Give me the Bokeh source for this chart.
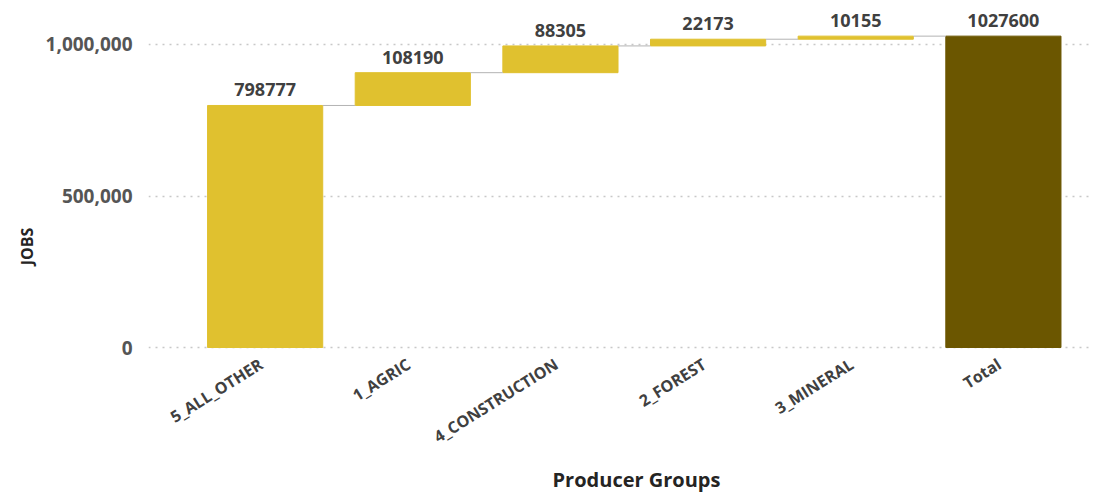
import math
from bokeh.plotting import figure
from bokeh.models import ColumnDataSource, Range1d, FixedTicker, NumeralTickFormatter, LabelSet, Label, Title
from bokeh.core.properties import value
from bokeh.embed import file_html
from bokeh.resources import INLINE

categories = ["5_ALL_OTHER", "1_AGRIC", "4_CONSTRUCTION", "2_FOREST", "3_MINERAL", "Total"]
values = [798777, 108190, 88305, 22173, 10155]
total = 1027600

# build waterfall
bottoms, tops = [], []
cum = 0
for v in values:
    bottoms.append(cum)
    cum += v
    tops.append(cum)
bottoms.append(0)
tops.append(total)
xs = list(range(len(categories)))
colors = ["#E0C12F"] * len(values) + ["#6B5600"]
labels = [str(v) for v in values] + [str(total)]

src = ColumnDataSource(dict(x=xs, bottom=bottoms, top=tops, color=colors, label=labels))
cat_src = ColumnDataSource(dict(x=xs, y=[0] * len(xs), name=categories))

W = 0.78
p = figure(width=1099, height=492, output_backend="svg", toolbar_location=None,
           x_range=Range1d(-0.79, 5.59), y_range=Range1d(-478500, 1145200),
           min_border_left=148, min_border_right=9, min_border_top=0, min_border_bottom=0)
p.outline_line_color = None
p.background_fill_color = "white"

p.vbar(x="x", bottom="bottom", top="top", width=W, color="color", source=src)

# connectors
cx0, cx1, cy = [], [], []
for i in range(len(categories) - 1):
    cx0.append(xs[i] + W / 2)
    cx1.append(xs[i + 1] - W / 2)
    cy.append(tops[i])
p.segment(x0=cx0, x1=cx1, y0=cy, y1=cy, line_color="#B3B3B3", line_width=1)

labs = LabelSet(x="x", y="top", text="label", source=src, text_align="center",
                text_baseline="bottom", y_offset=9, text_font=value("Open Sans"),
                text_font_style="bold", text_font_size="18px", text_color="#404040")
p.add_layout(labs)

# category labels (rotated), drawn under the zero line
p.text(x="x", y="y", text="name", source=cat_src, angle=math.radians(32),
       text_align="right", text_baseline="middle", x_offset=-4, y_offset=15,
       text_font=value("Open Sans"), text_font_style="bold", text_font_size="16px",
       text_color="#404040")

# y axis
p.yaxis.ticker = FixedTicker(ticks=[0, 500000, 1000000])
p.yaxis.formatter = NumeralTickFormatter(format="0,0")
p.yaxis.axis_line_color = None
p.yaxis.major_tick_line_color = None
p.yaxis.minor_tick_line_color = None
p.yaxis.major_label_text_font = "Open Sans"
p.yaxis.major_label_text_font_style = "bold"
p.yaxis.major_label_text_font_size = "19px"
p.yaxis.major_label_text_color = "#555555"
p.yaxis.major_label_standoff = 10

# y-axis title, raised to sit beside the bars as in the reference
ytitle = Title(text="JOBS", align="center", offset=67, standoff=10,
               text_font="Open Sans", text_font_style="bold", text_font_size="16px",
               text_color="#252423")
p.add_layout(ytitle, "left")

p.xaxis.visible = False

xlabel = Label(x=488, y=13, x_units="screen", y_units="screen", text="Producer Groups",
               text_align="center", text_baseline="middle", text_font="Open Sans",
               text_font_style="bold", text_font_size="20px", text_color="#252423")
p.add_layout(xlabel)

p.xgrid.grid_line_color = None
p.ygrid.grid_line_color = "#C8C8C8"
p.ygrid.grid_line_dash = "2 5"
p.ygrid.grid_line_width = 1.5

open("out.html", "w").write(file_html(p, INLINE))
